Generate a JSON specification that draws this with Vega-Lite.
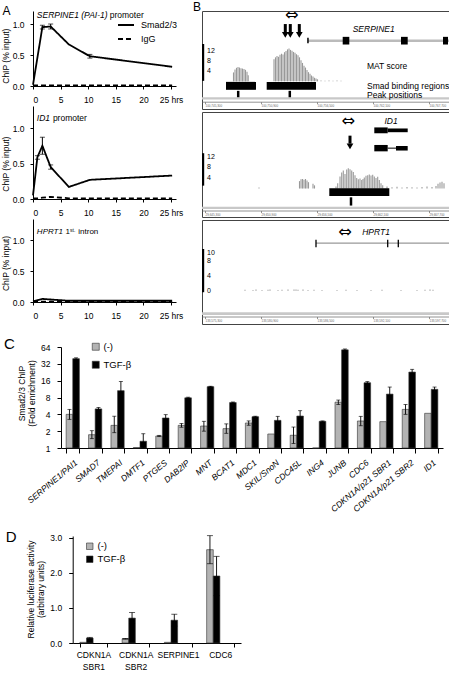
{
"$schema": "https://vega.github.io/schema/vega-lite/v6.json",
"background": "white",
"padding": {"left": 1, "top": 0, "right": 0, "bottom": 0},
"columns": 2,
"align": "each",
"bounds": "flush",
"spacing": {"row": 3, "column": 26},
"resolve": {"scale": {"color": "independent", "strokeDash": "independent"}, "legend": {"color": "independent", "strokeDash": "independent"}},
"datasets": {
"a1": [
{"series":"Smad2/3","t":0,"v":0.02},
{"series":"Smad2/3","t":1.7,"v":0.95,"lo":0.92,"hi":0.98},
{"series":"Smad2/3","t":3.2,"v":0.96,"lo":0.92,"hi":1.0},
{"series":"Smad2/3","t":6.5,"v":0.67},
{"series":"Smad2/3","t":10.3,"v":0.48,"lo":0.45,"hi":0.51},
{"series":"Smad2/3","t":25.2,"v":0.31},
{"series":"IgG","t":0,"v":0.01},
{"series":"IgG","t":1.7,"v":0.01},
{"series":"IgG","t":3.2,"v":0.01},
{"series":"IgG","t":6.5,"v":0.01},
{"series":"IgG","t":10.3,"v":0.01},
{"series":"IgG","t":25.2,"v":0.01}
],
"a2": [
{"series":"Smad2/3","t":0,"v":0.05},
{"series":"Smad2/3","t":0.8,"v":0.59,"lo":0.56,"hi":0.61},
{"series":"Smad2/3","t":1.7,"v":0.75,"lo":0.63,"hi":0.87},
{"series":"Smad2/3","t":3.2,"v":0.45,"lo":0.42,"hi":0.48},
{"series":"Smad2/3","t":6.5,"v":0.17},
{"series":"Smad2/3","t":10.3,"v":0.27},
{"series":"Smad2/3","t":25.2,"v":0.33},
{"series":"IgG","t":0,"v":0.01},
{"series":"IgG","t":0.8,"v":0.01},
{"series":"IgG","t":1.7,"v":0.02},
{"series":"IgG","t":3.2,"v":0.03},
{"series":"IgG","t":6.5,"v":0.01},
{"series":"IgG","t":10.3,"v":0.01},
{"series":"IgG","t":25.2,"v":0.01}
],
"a3": [
{"series":"Smad2/3","t":0,"v":0.01},
{"series":"Smad2/3","t":0.8,"v":0.03},
{"series":"Smad2/3","t":1.7,"v":0.05},
{"series":"Smad2/3","t":3.2,"v":0.04},
{"series":"Smad2/3","t":6.5,"v":0.02},
{"series":"Smad2/3","t":10.3,"v":0.02},
{"series":"Smad2/3","t":25.2,"v":0.02},
{"series":"IgG","t":0,"v":0.005},
{"series":"IgG","t":0.8,"v":0.005},
{"series":"IgG","t":1.7,"v":0.005},
{"series":"IgG","t":3.2,"v":0.005},
{"series":"IgG","t":6.5,"v":0.005},
{"series":"IgG","t":10.3,"v":0.005},
{"series":"IgG","t":25.2,"v":0.005}
],
"b1mat": [
{"pos":3.15,"score":3.5},{"pos":3.3,"score":4.6},{"pos":3.45,"score":5.3},{"pos":3.6,"score":5.6},{"pos":3.75,"score":5.4},{"pos":3.9,"score":5.1},{"pos":4.05,"score":5.0},{"pos":4.2,"score":4.8},{"pos":4.35,"score":4.5},{"pos":4.5,"score":3.8},{"pos":4.62,"score":2.4},
{"pos":7.2,"score":8.6},{"pos":7.35,"score":9.4},{"pos":7.5,"score":9.9},{"pos":7.65,"score":9.6},{"pos":7.8,"score":10.4},{"pos":7.95,"score":10.8},{"pos":8.1,"score":10.5},{"pos":8.25,"score":11.4},{"pos":8.4,"score":11.9},{"pos":8.55,"score":12.5},{"pos":8.7,"score":12.8},{"pos":8.85,"score":12.3},{"pos":9.0,"score":12.0},{"pos":9.15,"score":11.5},{"pos":9.3,"score":11.2},{"pos":9.45,"score":10.6},{"pos":9.6,"score":10.2},{"pos":9.75,"score":9.4},{"pos":9.9,"score":8.3},{"pos":10.05,"score":7.2},{"pos":10.2,"score":6.1},{"pos":10.35,"score":5.4},{"pos":10.5,"score":4.4},{"pos":10.65,"score":3.6},{"pos":10.8,"score":3.0},{"pos":10.95,"score":2.3},{"pos":11.1,"score":1.9},{"pos":11.25,"score":1.4},{"pos":11.4,"score":1.1},{"pos":11.55,"score":0.8},
{"pos":11.9,"score":0.3},{"pos":12.3,"score":0.2},{"pos":12.7,"score":0.3},{"pos":13.1,"score":0.2},{"pos":13.5,"score":0.3},{"pos":13.9,"score":0.2}
],
"b1regions": [{"start":2.4,"end":5.4},{"start":6.47,"end":11.4}],
"b1peaks": [{"pos":3.62},{"pos":8.78}],
"b1gene": [
{"part":"intron","start":10.6,"end":24.7},
{"part":"exon","start":14.07,"end":14.73},
{"part":"exon","start":19.9,"end":20.57},
{"part":"exon","start":24.1,"end":24.6},
{"part":"tss","start":10.52,"end":10.67}
],
"b1arrows": [{"pos":8.33},{"pos":8.83},{"pos":9.73}],
"b1scale": [{"v":4},{"v":8},{"v":12}],
"b2mat": [
{"pos":5.7,"score":0.4},
{"pos":9.75,"score":2.8},{"pos":9.9,"score":3.5},{"pos":10.05,"score":3.6},{"pos":10.2,"score":3.3},{"pos":10.35,"score":3.6},{"pos":10.5,"score":3.0},{"pos":10.65,"score":2.4},
{"pos":11.1,"score":1.8},{"pos":11.25,"score":1.2},
{"pos":13.4,"score":0.8},{"pos":13.57,"score":2.0},{"pos":13.8,"score":4.5},{"pos":13.97,"score":6.0},{"pos":14.13,"score":6.8},{"pos":14.3,"score":5.5},{"pos":14.47,"score":7.2},{"pos":14.63,"score":7.6},{"pos":14.8,"score":7.3},{"pos":14.97,"score":6.8},{"pos":15.13,"score":6.2},{"pos":15.3,"score":5.0},{"pos":15.47,"score":4.0},{"pos":15.63,"score":3.5},{"pos":15.8,"score":3.8},{"pos":15.97,"score":3.2},{"pos":16.1,"score":3.6},{"pos":16.23,"score":4.2},{"pos":16.4,"score":4.8},{"pos":16.57,"score":5.0},{"pos":16.73,"score":5.3},{"pos":16.9,"score":4.9},{"pos":17.07,"score":5.2},{"pos":17.23,"score":4.5},{"pos":17.4,"score":4.0},{"pos":17.57,"score":4.4},{"pos":17.73,"score":3.2},{"pos":17.9,"score":2.0},{"pos":18.07,"score":1.2},
{"pos":18.5,"score":0.8},{"pos":19.0,"score":0.5},{"pos":19.5,"score":0.7},{"pos":20.0,"score":0.4},{"pos":20.5,"score":0.6},{"pos":21.0,"score":0.5},{"pos":21.5,"score":0.4},{"pos":22.0,"score":0.6},{"pos":22.5,"score":0.8},{"pos":23.0,"score":0.6},{"pos":23.4,"score":1.0},{"pos":23.6,"score":1.8},{"pos":23.8,"score":2.3},{"pos":24.0,"score":2.6},{"pos":24.2,"score":2.0}
],
"b2regions": [{"start":12.73,"end":18.73}],
"b2peaks": [{"pos":14.9}],
"b2gene": [
{"tx":"a","part":"cds","start":17.23,"end":18.57},
{"tx":"a","part":"utr","start":18.57,"end":20.57},
{"tx":"b","part":"cds","start":17.23,"end":18.57},
{"tx":"b","part":"intron","start":18.57,"end":19.4},
{"tx":"b","part":"utr","start":19.4,"end":20.57}
],
"b2arrows": [{"pos":14.8}],
"b2scale": [{"v":4},{"v":8},{"v":12}],
"b3mat": [
{"pos":4.3,"score":0.25},{"pos":5.1,"score":0.2},{"pos":5.4,"score":0.3},{"pos":6.0,"score":0.2},{"pos":6.6,"score":0.25},{"pos":6.8,"score":0.3},{"pos":7.6,"score":0.2},{"pos":8.0,"score":0.25},{"pos":8.6,"score":0.3},{"pos":9.2,"score":0.3},{"pos":9.4,"score":0.3},{"pos":9.6,"score":0.25},{"pos":10.1,"score":0.3},{"pos":10.6,"score":0.2},{"pos":11.2,"score":0.25},{"pos":12.0,"score":0.2},{"pos":13.5,"score":0.2},{"pos":14.4,"score":0.25},{"pos":15.5,"score":0.2},{"pos":16.9,"score":0.2},{"pos":18.0,"score":0.25},{"pos":19.9,"score":0.2},{"pos":21.5,"score":0.2},{"pos":22.3,"score":0.25},{"pos":22.8,"score":0.3},{"pos":23.1,"score":0.25}
],
"b3gene": [{"part":"intron","start":11.4,"end":24.7}],
"b3exons": [{"pos":11.4},{"pos":18.57},{"pos":19.63}],
"b3scale": [{"v":0},{"v":4},{"v":8},{"v":10}],
"c": [
{"gene":"SERPINE1/PAI1","treatment":"(-)","value":4.0,"lo":3.25,"hi":4.9},
{"gene":"SERPINE1/PAI1","treatment":"TGF-β","value":39.6,"lo":38.0,"hi":41.0},
{"gene":"SMAD7","treatment":"(-)","value":1.73,"lo":1.47,"hi":2.04},
{"gene":"SMAD7","treatment":"TGF-β","value":5.0,"lo":4.7,"hi":5.3},
{"gene":"TMEPAI","treatment":"(-)","value":2.54,"lo":1.88,"hi":3.7},
{"gene":"TMEPAI","treatment":"TGF-β","value":10.6,"lo":7.2,"hi":15.5},
{"gene":"DMTF1","treatment":"(-)","value":1.02},
{"gene":"DMTF1","treatment":"TGF-β","value":1.32,"lo":1.0,"hi":1.8},
{"gene":"PTGES","treatment":"(-)","value":1.64,"lo":1.6,"hi":1.68},
{"gene":"PTGES","treatment":"TGF-β","value":3.44,"lo":2.99,"hi":3.95},
{"gene":"DAB2IP","treatment":"(-)","value":2.54,"lo":2.35,"hi":2.75},
{"gene":"DAB2IP","treatment":"TGF-β","value":7.9,"lo":7.7,"hi":8.1},
{"gene":"MNT","treatment":"(-)","value":2.47,"lo":2.0,"hi":3.0},
{"gene":"MNT","treatment":"TGF-β","value":12.5,"lo":12.3,"hi":12.7},
{"gene":"BCAT1","treatment":"(-)","value":2.22,"lo":1.83,"hi":2.7},
{"gene":"BCAT1","treatment":"TGF-β","value":6.5,"lo":6.35,"hi":6.65},
{"gene":"MDC1","treatment":"(-)","value":2.8,"lo":2.55,"hi":3.05},
{"gene":"MDC1","treatment":"TGF-β","value":3.63,"lo":3.55,"hi":3.7},
{"gene":"SKIL/SnoN","treatment":"(-)","value":1.78},
{"gene":"SKIL/SnoN","treatment":"TGF-β","value":3.12,"lo":2.65,"hi":3.68},
{"gene":"CDC45L","treatment":"(-)","value":1.69,"lo":1.2,"hi":2.37},
{"gene":"CDC45L","treatment":"TGF-β","value":3.73,"lo":3.0,"hi":4.65},
{"gene":"ING4","treatment":"(-)","value":1.0},
{"gene":"ING4","treatment":"TGF-β","value":3.0,"lo":2.95,"hi":3.05},
{"gene":"JUNB","treatment":"(-)","value":6.6,"lo":6.0,"hi":7.2},
{"gene":"JUNB","treatment":"TGF-β","value":57,"lo":55,"hi":59},
{"gene":"CDC6","treatment":"(-)","value":3.04,"lo":2.5,"hi":3.68},
{"gene":"CDC6","treatment":"TGF-β","value":14.7,"lo":14.0,"hi":15.4},
{"gene":"CDKN1A/p21 SBR1","treatment":"(-)","value":2.96},
{"gene":"CDKN1A/p21 SBR1","treatment":"TGF-β","value":9.2,"lo":6.9,"hi":12.3},
{"gene":"CDKN1A/p21 SBR2","treatment":"(-)","value":4.9,"lo":4.0,"hi":6.0},
{"gene":"CDKN1A/p21 SBR2","treatment":"TGF-β","value":22.8,"lo":20.4,"hi":25.5},
{"gene":"ID1","treatment":"(-)","value":4.17},
{"gene":"ID1","treatment":"TGF-β","value":11.2,"lo":10.2,"hi":12.3}
],
"d": [
{"construct":"CDKN1A SBR1","treatment":"(-)","value":0.02},
{"construct":"CDKN1A SBR1","treatment":"TGF-β","value":0.14,"lo":0.12,"hi":0.16},
{"construct":"CDKN1A SBR2","treatment":"(-)","value":0.12,"lo":0.11,"hi":0.13},
{"construct":"CDKN1A SBR2","treatment":"TGF-β","value":0.71,"lo":0.55,"hi":0.87},
{"construct":"SERPINE1","treatment":"(-)","value":0.02},
{"construct":"SERPINE1","treatment":"TGF-β","value":0.65,"lo":0.48,"hi":0.82},
{"construct":"CDC6","treatment":"(-)","value":2.66,"lo":2.26,"hi":3.06},
{"construct":"CDC6","treatment":"TGF-β","value":1.91,"lo":1.35,"hi":2.47}
]
},
"concat": [
{
"width": 143, "height": 98,
"title": {"text": "A", "anchor": "start", "frame": "group", "fontSize": 12, "offset": 0, "dx": -30.6, "dy": 16.3, "baseline": "alphabetic"},
"data": {"name": "a1"},
"encoding": {
 "x": {"field": "t", "type": "quantitative", "scale": {"domain": [0, 25.9], "nice": false, "zero": false}, "axis": {"values": [0,5,10,15,20,25], "labelExpr": "datum.value == 25 ? '25 hrs' : datum.label", "title": null, "tickSize": 3, "labelPadding": 6, "offset": -23, "labelOverlap": false}}
},
"layer": [
{"mark": {"type": "line", "color": "#000", "strokeWidth": 1.8},
 "encoding": {
  "y": {"field": "v", "type": "quantitative", "scale": {"domain": [0, 1.21], "nice": false, "range": [75, 0]}, "axis": {"values": [0, 0.5, 1], "format": ".1f", "title": "ChIP (% input)", "titleX": -22.3, "titleY": 44.7, "titleAngle": 270, "titleAlign": "center", "titleBaseline": "bottom", "tickSize": 3, "labelPadding": 6}},
  "strokeDash": {"field": "series", "type": "nominal", "scale": {"domain": ["Smad2/3", "IgG"], "range": [[1, 0], [5, 3]]}, "legend": {"orient": "none", "legendX": 84, "legendY": 5, "title": null, "symbolType": "stroke", "symbolSize": 256, "symbolStrokeWidth": 1.8, "symbolStrokeColor": "#000", "labelFontSize": 9, "labelOffset": 6, "rowPadding": 0, "padding": 0}}
 }},
{"transform": [{"filter": "isValid(datum.lo)"}], "mark": {"type": "rule", "color": "#000", "strokeWidth": 1}, "encoding": {"y": {"field": "lo", "type": "quantitative"}, "y2": {"field": "hi"}}},
{"transform": [{"filter": "isValid(datum.lo)"}], "mark": {"type": "tick", "orient": "horizontal", "size": 5, "thickness": 1, "color": "#000"}, "encoding": {"y": {"field": "hi", "type": "quantitative"}}},
{"transform": [{"filter": "isValid(datum.lo)"}], "mark": {"type": "tick", "orient": "horizontal", "size": 5, "thickness": 1, "color": "#000"}, "encoding": {"y": {"field": "lo", "type": "quantitative"}}},
{"data": {"values": [{"t": 0.7}]}, "mark": {"type": "text", "text": "SERPINE1 (PAI-1)", "fontStyle": "italic", "align": "left", "baseline": "middle", "fontSize": 8.5}, "encoding": {"y": {"datum": 1.15}}},
{"data": {"values": [{"t": 13.9}]}, "mark": {"type": "text", "text": "promoter", "align": "left", "baseline": "middle", "fontSize": 8.5}, "encoding": {"y": {"datum": 1.15}}}
]
},
{
"width": 247, "height": 98,
"view": {"stroke": "#444", "strokeWidth": 1},
"title": {"text": "B", "anchor": "start", "frame": "group", "fontSize": 12, "offset": 0, "dx": -9, "dy": 16.3, "baseline": "alphabetic"},
"layer": [
{"data": {"values": [{}]}, "mark": {"type": "rect", "color": "#c8c8c8"},
 "encoding": {"x": {"datum": 0, "type": "quantitative", "scale": {"domain": [0, 24.7], "nice": false, "zero": false}, "axis": {"title": null, "orient": "bottom", "offset": -7.3, "values": [0.3,3.1,5.9,8.7,11.5,14.3,17.1,19.9,22.7], "labelExpr": "format(100745000 + datum.value * 1000, ',')", "domainColor": "#777", "domainWidth": 0.8, "tickColor": "#777", "tickSize": 2, "tickWidth": 0.8, "labelFontSize": 3, "labelColor": "#666", "labelPadding": 0.5, "labelAlign": "left"}}, "x2": {"datum": 24.7}, "y": {"datum": -6.25, "type": "quantitative", "scale": {"domain": [-10.8, 27.5], "nice": false, "zero": false}, "axis": null}, "y2": {"datum": -7.1}}},
{"data": {"name": "b1mat"}, "mark": {"type": "rule", "color": "#999", "strokeWidth": 1.1}, "encoding": {"x": {"field": "pos", "type": "quantitative"}, "y": {"field": "score", "type": "quantitative", "axis": null}, "y2": {"datum": 0}}},
{"data": {"name": "b1regions"}, "mark": {"type": "rect", "color": "#000"}, "encoding": {"x": {"field": "start", "type": "quantitative"}, "x2": {"field": "end"}, "y": {"datum": -0.2, "axis": null}, "y2": {"datum": -3.3}}},
{"data": {"name": "b1peaks"}, "mark": {"type": "rule", "color": "#000", "strokeWidth": 2.5}, "encoding": {"x": {"field": "pos", "type": "quantitative"}, "y": {"datum": -3.7, "axis": null}, "y2": {"datum": -6.2}}},
{"data": {"name": "b1gene"}, "transform": [{"filter": "datum.part == 'intron'"}], "mark": {"type": "rule", "color": "#bbb", "strokeWidth": 2.5}, "encoding": {"x": {"field": "start", "type": "quantitative"}, "x2": {"field": "end"}, "y": {"datum": 15.9, "axis": null}}},
{"data": {"name": "b1gene"}, "transform": [{"filter": "datum.part == 'exon'"}], "mark": {"type": "rect", "color": "#000"}, "encoding": {"x": {"field": "start", "type": "quantitative"}, "x2": {"field": "end"}, "y": {"datum": 17.4, "axis": null}, "y2": {"datum": 14.4}}},
{"data": {"name": "b1gene"}, "transform": [{"filter": "datum.part == 'tss'"}], "mark": {"type": "rect", "color": "#000"}, "encoding": {"x": {"field": "start", "type": "quantitative"}, "x2": {"field": "end"}, "y": {"datum": 17.0, "axis": null}, "y2": {"datum": 14.9}}},
{"data": {"name": "b1arrows"}, "mark": {"type": "rule", "color": "#000", "strokeWidth": 3}, "encoding": {"x": {"field": "pos", "type": "quantitative"}, "y": {"datum": 22.4, "axis": null}, "y2": {"datum": 19.0}}},
{"data": {"name": "b1arrows"}, "mark": {"type": "point", "shape": "triangle-down", "filled": true, "color": "#000", "size": 45, "opacity": 1}, "encoding": {"x": {"field": "pos", "type": "quantitative"}, "y": {"datum": 18.2, "axis": null}}},
{"data": {"values": [{}]}, "mark": {"type": "text", "text": "⇔", "font": "DejaVu Sans", "fontSize": 16, "align": "center", "baseline": "middle"}, "encoding": {"x": {"datum": 8.97}, "y": {"datum": 25.9, "axis": null}}},
{"data": {"values": [{}]}, "mark": {"type": "text", "text": "SERPINE1", "fontStyle": "italic", "align": "left", "baseline": "middle", "fontSize": 8.5}, "encoding": {"x": {"datum": 15.07}, "y": {"datum": 20.4, "axis": null}}},
{"data": {"values": [{}]}, "mark": {"type": "text", "text": "MAT score", "align": "left", "baseline": "middle", "fontSize": 8.5}, "encoding": {"x": {"datum": 16.5}, "y": {"datum": 6.1, "axis": null}}},
{"data": {"values": [{}]}, "mark": {"type": "text", "text": "Smad binding regions", "align": "left", "baseline": "middle", "fontSize": 8.5}, "encoding": {"x": {"datum": 16.5}, "y": {"datum": -1.7, "axis": null}}},
{"data": {"values": [{}]}, "mark": {"type": "text", "text": "Peak positions", "align": "left", "baseline": "middle", "fontSize": 8.5}, "encoding": {"x": {"datum": 16.5}, "y": {"datum": -5.2, "axis": null}}},
{"data": {"values": [{}]}, "mark": {"type": "rect", "color": "#000"}, "encoding": {"x": {"datum": 0}, "x2": {"datum": 0.22}, "y": {"datum": 0.2, "axis": null}, "y2": {"datum": 14.6}}},
{"data": {"name": "b1scale"}, "mark": {"type": "text", "align": "left", "baseline": "middle", "fontSize": 7}, "encoding": {"x": {"datum": 0.5}, "y": {"field": "v", "type": "quantitative", "axis": null}, "text": {"field": "v"}}}
]
},
{
"width": 143, "height": 105,
"data": {"name": "a2"},
"encoding": {
 "x": {"field": "t", "type": "quantitative", "scale": {"domain": [0, 25.9], "nice": false, "zero": false}, "axis": {"values": [0,5,10,15,20,25], "labelExpr": "datum.value == 25 ? '25 hrs' : datum.label", "title": null, "tickSize": 3, "labelPadding": 6, "offset": -18, "labelOverlap": false}}
},
"layer": [
{"mark": {"type": "line", "color": "#000", "strokeWidth": 1.8},
 "encoding": {
  "y": {"field": "v", "type": "quantitative", "scale": {"domain": [0, 1.31], "nice": false, "range": [87, -6]}, "axis": {"values": [0, 0.5, 1], "format": ".1f", "title": "ChIP (% input)", "titleX": -22.3, "titleY": 51.7, "titleAngle": 270, "titleAlign": "center", "titleBaseline": "bottom", "tickSize": 3, "labelPadding": 6}},
  "strokeDash": {"field": "series", "type": "nominal", "scale": {"domain": ["Smad2/3", "IgG"], "range": [[1, 0], [5, 3]]}, "legend": null}
 }},
{"transform": [{"filter": "isValid(datum.lo)"}], "mark": {"type": "rule", "color": "#000", "strokeWidth": 1}, "encoding": {"y": {"field": "lo", "type": "quantitative"}, "y2": {"field": "hi"}}},
{"transform": [{"filter": "isValid(datum.lo)"}], "mark": {"type": "tick", "orient": "horizontal", "size": 5, "thickness": 1, "color": "#000"}, "encoding": {"y": {"field": "hi", "type": "quantitative"}}},
{"transform": [{"filter": "isValid(datum.lo)"}], "mark": {"type": "tick", "orient": "horizontal", "size": 5, "thickness": 1, "color": "#000"}, "encoding": {"y": {"field": "lo", "type": "quantitative"}}},
{"data": {"values": [{"t": 0.7}]}, "mark": {"type": "text", "text": "ID1", "fontStyle": "italic", "align": "left", "baseline": "middle", "fontSize": 8.5}, "encoding": {"y": {"datum": 1.14}}},
{"data": {"values": [{"t": 3.6}]}, "mark": {"type": "text", "text": "promoter", "align": "left", "baseline": "middle", "fontSize": 8.5}, "encoding": {"y": {"datum": 1.14}}}
]
},
{
"width": 247, "height": 105,
"view": {"stroke": "#444", "strokeWidth": 1},
"layer": [
{"data": {"values": [{}]}, "mark": {"type": "rect", "color": "#c8c8c8"},
 "encoding": {"x": {"datum": 0, "type": "quantitative", "scale": {"domain": [0, 24.7], "nice": false, "zero": false}, "axis": {"title": null, "orient": "bottom", "offset": -6.5, "values": [0.3,3.1,5.9,8.7,11.5,14.3,17.1,19.9,22.7], "labelExpr": "format(29645000 + datum.value * 1000, ',')", "domainColor": "#777", "domainWidth": 0.8, "tickColor": "#777", "tickSize": 2, "tickWidth": 0.8, "labelFontSize": 3, "labelColor": "#666", "labelPadding": 0.5, "labelAlign": "left"}}, "x2": {"datum": 24.7}, "y": {"datum": -6.8, "type": "quantitative", "scale": {"domain": [-10.7, 28.8], "nice": false, "zero": false}, "axis": null}, "y2": {"datum": -7.7}}},
{"data": {"name": "b2mat"}, "mark": {"type": "rule", "color": "#999", "strokeWidth": 1.1}, "encoding": {"x": {"field": "pos", "type": "quantitative"}, "y": {"field": "score", "type": "quantitative", "axis": null}, "y2": {"datum": 0}}},
{"data": {"name": "b2regions"}, "mark": {"type": "rect", "color": "#000"}, "encoding": {"x": {"field": "start", "type": "quantitative"}, "x2": {"field": "end"}, "y": {"datum": 0.1, "axis": null}, "y2": {"datum": -2.8}}},
{"data": {"name": "b2peaks"}, "mark": {"type": "rule", "color": "#000", "strokeWidth": 2.5}, "encoding": {"x": {"field": "pos", "type": "quantitative"}, "y": {"datum": -3.3, "axis": null}, "y2": {"datum": -6.4}}},
{"data": {"name": "b2gene"}, "transform": [{"filter": "datum.tx == 'a' && datum.part == 'cds'"}], "mark": {"type": "rect", "color": "#000"}, "encoding": {"x": {"field": "start", "type": "quantitative"}, "x2": {"field": "end"}, "y": {"datum": 23.0, "axis": null}, "y2": {"datum": 20.8}}},
{"data": {"name": "b2gene"}, "transform": [{"filter": "datum.tx == 'a' && datum.part == 'utr'"}], "mark": {"type": "rect", "color": "#000"}, "encoding": {"x": {"field": "start", "type": "quantitative"}, "x2": {"field": "end"}, "y": {"datum": 22.6, "axis": null}, "y2": {"datum": 21.2}}},
{"data": {"name": "b2gene"}, "transform": [{"filter": "datum.tx == 'b' && datum.part == 'cds'"}], "mark": {"type": "rect", "color": "#000"}, "encoding": {"x": {"field": "start", "type": "quantitative"}, "x2": {"field": "end"}, "y": {"datum": 16.4, "axis": null}, "y2": {"datum": 14.0}}},
{"data": {"name": "b2gene"}, "transform": [{"filter": "datum.tx == 'b' && datum.part == 'intron'"}], "mark": {"type": "rule", "color": "#000", "strokeWidth": 1}, "encoding": {"x": {"field": "start", "type": "quantitative"}, "x2": {"field": "end"}, "y": {"datum": 15.2, "axis": null}}},
{"data": {"name": "b2gene"}, "transform": [{"filter": "datum.tx == 'b' && datum.part == 'utr'"}], "mark": {"type": "rect", "color": "#000"}, "encoding": {"x": {"field": "start", "type": "quantitative"}, "x2": {"field": "end"}, "y": {"datum": 16.0, "axis": null}, "y2": {"datum": 14.3}}},
{"data": {"name": "b2arrows"}, "mark": {"type": "rule", "color": "#000", "strokeWidth": 3}, "encoding": {"x": {"field": "pos", "type": "quantitative"}, "y": {"datum": 19.9, "axis": null}, "y2": {"datum": 16.9}}},
{"data": {"name": "b2arrows"}, "mark": {"type": "point", "shape": "triangle-down", "filled": true, "color": "#000", "size": 45, "opacity": 1}, "encoding": {"x": {"field": "pos", "type": "quantitative"}, "y": {"datum": 15.9, "axis": null}}},
{"data": {"values": [{}]}, "mark": {"type": "text", "text": "⇔", "font": "DejaVu Sans", "fontSize": 16, "align": "center", "baseline": "middle"}, "encoding": {"x": {"datum": 14.63}, "y": {"datum": 25.3, "axis": null}}},
{"data": {"values": [{}]}, "mark": {"type": "text", "text": "ID1", "fontStyle": "italic", "align": "center", "baseline": "middle", "fontSize": 8.5}, "encoding": {"x": {"datum": 18.9}, "y": {"datum": 25.5, "axis": null}}},
{"data": {"values": [{}]}, "mark": {"type": "rect", "color": "#000"}, "encoding": {"x": {"datum": 0}, "x2": {"datum": 0.22}, "y": {"datum": 1.1, "axis": null}, "y2": {"datum": 13.3}}},
{"data": {"name": "b2scale"}, "mark": {"type": "text", "align": "left", "baseline": "middle", "fontSize": 7}, "encoding": {"x": {"datum": 0.5}, "y": {"field": "v", "type": "quantitative", "axis": null}, "text": {"field": "v"}}}
]
},
{
"width": 143, "height": 104,
"data": {"name": "a3"},
"encoding": {
 "x": {"field": "t", "type": "quantitative", "scale": {"domain": [0, 25.9], "nice": false, "zero": false}, "axis": {"values": [0,5,10,15,20,25], "labelExpr": "datum.value == 25 ? '25 hrs' : datum.label", "title": null, "tickSize": 3, "labelPadding": 6, "offset": -22, "labelOverlap": false}}
},
"layer": [
{"mark": {"type": "line", "color": "#000", "strokeWidth": 1.8},
 "encoding": {
  "y": {"field": "v", "type": "quantitative", "scale": {"domain": [0, 1.34], "nice": false, "range": [82, -1]}, "axis": {"values": [0, 0.5, 1], "format": ".1f", "title": "ChIP (% input)", "titleX": -22.3, "titleY": 43, "titleAngle": 270, "titleAlign": "center", "titleBaseline": "bottom", "tickSize": 3, "labelPadding": 6}},
  "strokeDash": {"field": "series", "type": "nominal", "scale": {"domain": ["Smad2/3", "IgG"], "range": [[1, 0], [5, 3]]}, "legend": null}
 }},
{"data": {"values": [{"t": 0.7}]}, "mark": {"type": "text", "text": "HPRT1", "fontStyle": "italic", "align": "left", "baseline": "middle", "fontSize": 8}, "encoding": {"y": {"datum": 1.13}}},
{"data": {"values": [{"t": 5.9}]}, "mark": {"type": "text", "text": "1", "align": "left", "baseline": "middle", "fontSize": 8}, "encoding": {"y": {"datum": 1.13}}},
{"data": {"values": [{"t": 6.7}]}, "mark": {"type": "text", "text": "st.", "align": "left", "baseline": "middle", "fontSize": 5}, "encoding": {"y": {"datum": 1.17}}},
{"data": {"values": [{"t": 8.2}]}, "mark": {"type": "text", "text": "intron", "align": "left", "baseline": "middle", "fontSize": 8}, "encoding": {"y": {"datum": 1.13}}}
]
},
{
"width": 247, "height": 104,
"view": {"stroke": "#444", "strokeWidth": 1},
"layer": [
{"data": {"values": [{}]}, "mark": {"type": "rect", "color": "#c8c8c8"},
 "encoding": {"x": {"datum": 0, "type": "quantitative", "scale": {"domain": [0, 24.7], "nice": false, "zero": false}, "axis": {"title": null, "orient": "bottom", "offset": -7.5, "values": [0.3,3.1,5.9,8.7,11.5,14.3,17.1,19.9,22.7], "labelExpr": "format(133575000 + datum.value * 1000, ',')", "domainColor": "#777", "domainWidth": 0.8, "tickColor": "#777", "tickSize": 2, "tickWidth": 0.8, "labelFontSize": 3, "labelColor": "#666", "labelPadding": 0.5, "labelAlign": "left"}}, "x2": {"datum": 24.7}, "y": {"datum": -5.73, "type": "quantitative", "scale": {"domain": [-8.83, 18.75], "nice": false, "zero": false}, "axis": null}, "y2": {"datum": -6.45}}},
{"data": {"name": "b3mat"}, "mark": {"type": "rule", "color": "#999", "strokeWidth": 1.1}, "encoding": {"x": {"field": "pos", "type": "quantitative"}, "y": {"field": "score", "type": "quantitative", "axis": null}, "y2": {"datum": 0}}},
{"data": {"name": "b3gene"}, "mark": {"type": "rule", "color": "#999", "strokeWidth": 1.2}, "encoding": {"x": {"field": "start", "type": "quantitative"}, "x2": {"field": "end"}, "y": {"datum": 12.6, "axis": null}}},
{"data": {"name": "b3exons"}, "mark": {"type": "rule", "color": "#000", "strokeWidth": 1.3}, "encoding": {"x": {"field": "pos", "type": "quantitative"}, "y": {"datum": 13.5, "axis": null}, "y2": {"datum": 11.5}}},
{"data": {"values": [{}]}, "mark": {"type": "text", "text": "⇔", "font": "DejaVu Sans", "fontSize": 16, "align": "center", "baseline": "middle"}, "encoding": {"x": {"datum": 14.3}, "y": {"datum": 15.6, "axis": null}}},
{"data": {"values": [{}]}, "mark": {"type": "text", "text": "HPRT1", "fontStyle": "italic", "align": "center", "baseline": "middle", "fontSize": 8.5}, "encoding": {"x": {"datum": 17.4}, "y": {"datum": 15.6, "axis": null}}},
{"data": {"values": [{}]}, "mark": {"type": "rect", "color": "#000"}, "encoding": {"x": {"datum": 0}, "x2": {"datum": 0.22}, "y": {"datum": 11.06, "axis": null}, "y2": {"datum": -0.4}}},
{"data": {"name": "b3scale"}, "mark": {"type": "text", "align": "left", "baseline": "middle", "fontSize": 7}, "encoding": {"x": {"datum": 0.5}, "y": {"field": "v", "type": "quantitative", "axis": null}, "text": {"field": "v"}}}
]
},
{
"width": 143, "height": 121,
"title": {"text": "C", "anchor": "start", "frame": "group", "fontSize": 15, "offset": 0, "dx": -29, "dy": 36.7, "baseline": "alphabetic"},
"data": {"name": "c"},
"encoding": {
 "x": {"field": "gene", "type": "nominal", "sort": null, "scale": {"range": [28, 410], "paddingInner": 0.41, "paddingOuter": 0.23}, "axis": {"title": null, "labelAngle": -40, "labelAlign": "right", "labelBaseline": "middle", "labelFontStyle": "italic", "labelFontSize": 8.5, "labelPadding": 8, "labelOffset": 3, "tickBand": "extent", "tickSize": 5, "labelOverlap": false, "labelLimit": 0}},
 "xOffset": {"field": "treatment", "type": "nominal", "sort": ["(-)", "TGF-β"], "scale": {"domain": ["(-)", "TGF-β"]}}
},
"layer": [
{"mark": {"type": "bar", "stroke": "#333", "strokeWidth": 0.6},
 "encoding": {
  "y": {"field": "value", "type": "quantitative", "scale": {"type": "log", "base": 2, "domain": [1, 64], "range": [121, 20], "nice": false}, "axis": {"values": [1,2,4,8,16,32,64], "format": "d", "offset": -28, "title": ["Smad2/3 ChIP", "(Fold enrichment)"], "titleX": -35, "titleY": 66, "titleAngle": 270, "titleAlign": "center", "titleBaseline": "bottom", "tickSize": 4, "labelPadding": 7, "labelFontSize": 8.5}},
  "y2": {"datum": 1},
  "color": {"field": "treatment", "type": "nominal", "scale": {"domain": ["(-)", "TGF-β"], "range": ["#b3b3b3", "#000000"]}, "legend": {"orient": "none", "legendX": 58, "legendY": 15, "title": null, "symbolType": "square", "symbolSize": 49, "symbolStrokeColor": "#333", "symbolStrokeWidth": 0.6, "labelFontSize": 9.5, "rowPadding": 7, "labelOffset": 3, "padding": 0}}
 }},
{"transform": [{"filter": "isValid(datum.lo)"}], "mark": {"type": "rule", "color": "#000", "strokeWidth": 0.9}, "encoding": {"y": {"field": "lo", "type": "quantitative"}, "y2": {"field": "hi"}}},
{"transform": [{"filter": "isValid(datum.lo)"}], "mark": {"type": "tick", "orient": "horizontal", "size": 4, "thickness": 0.9, "color": "#000"}, "encoding": {"y": {"field": "hi", "type": "quantitative"}}},
{"transform": [{"filter": "isValid(datum.lo)"}], "mark": {"type": "tick", "orient": "horizontal", "size": 4, "thickness": 0.9, "color": "#000"}, "encoding": {"y": {"field": "lo", "type": "quantitative"}}}
]
},
{
"width": 1, "height": 1,
"data": {"values": []},
"mark": "point",
"encoding": {"x": {"field": "a", "type": "quantitative", "axis": null}, "y": {"field": "b", "type": "quantitative", "axis": null}}
},
{
"width": 143, "height": 192,
"title": {"text": "D", "anchor": "start", "frame": "group", "fontSize": 15, "offset": 0, "dx": -27.3, "dy": 106, "baseline": "alphabetic"},
"data": {"name": "d"},
"encoding": {
 "x": {"field": "construct", "type": "nominal", "sort": null, "scale": {"range": [39.7, 208], "paddingInner": 0.357, "paddingOuter": 0.17}, "axis": {"title": null, "labelAngle": 0, "labelExpr": "split(datum.label, ' ')", "labelFontSize": 8.5, "labelLineHeight": 12, "labelPadding": 3, "tickBand": "extent", "tickSize": 4, "labelBaseline": "top"}},
 "xOffset": {"field": "treatment", "type": "nominal", "sort": ["(-)", "TGF-β"], "scale": {"domain": ["(-)", "TGF-β"]}}
},
"layer": [
{"mark": {"type": "bar", "stroke": "#333", "strokeWidth": 0.6},
 "encoding": {
  "y": {"field": "value", "type": "quantitative", "scale": {"domain": [0, 3.05], "range": [192, 85], "nice": false}, "axis": {"values": [0,0.5,1,1.5,2,2.5,3], "format": ".1f", "offset": -39.7, "title": ["Relative luciferase activity", "(arbitrary units)"], "titleX": -37.5, "titleY": 138, "titleAngle": 270, "titleAlign": "center", "titleBaseline": "bottom", "tickSize": 4, "labelPadding": 7, "labelFontSize": 8.5}},
  "y2": {"datum": 0},
  "color": {"field": "treatment", "type": "nominal", "scale": {"domain": ["(-)", "TGF-β"], "range": ["#b3b3b3", "#000000"]}, "legend": {"orient": "none", "legendX": 52, "legendY": 90.5, "title": null, "symbolType": "square", "symbolSize": 42, "symbolStrokeColor": "#333", "symbolStrokeWidth": 0.6, "labelFontSize": 9.5, "rowPadding": 2, "labelOffset": 3, "padding": 0}}
 }},
{"transform": [{"filter": "isValid(datum.lo)"}], "mark": {"type": "rule", "color": "#000", "strokeWidth": 0.9}, "encoding": {"y": {"field": "lo", "type": "quantitative"}, "y2": {"field": "hi"}}},
{"transform": [{"filter": "isValid(datum.lo)"}], "mark": {"type": "tick", "orient": "horizontal", "size": 6, "thickness": 0.9, "color": "#000"}, "encoding": {"y": {"field": "hi", "type": "quantitative"}}},
{"transform": [{"filter": "isValid(datum.lo)"}], "mark": {"type": "tick", "orient": "horizontal", "size": 6, "thickness": 0.9, "color": "#000"}, "encoding": {"y": {"field": "lo", "type": "quantitative"}}}
]
}
],
"config": {
 "font": "Liberation Sans",
 "view": {"stroke": null},
 "axis": {"labelFont": "Liberation Sans", "titleFont": "Liberation Sans", "labelFontSize": 8.5, "titleFontSize": 8.5, "titleFontWeight": "normal", "labelColor": "#000", "titleColor": "#000", "domainColor": "#000", "tickColor": "#000", "grid": false},
 "legend": {"labelFont": "Liberation Sans", "labelColor": "#000"},
 "text": {"font": "Liberation Sans", "color": "#000"},
 "title": {"font": "Liberation Sans", "fontWeight": "normal", "color": "#000"}
}
}
